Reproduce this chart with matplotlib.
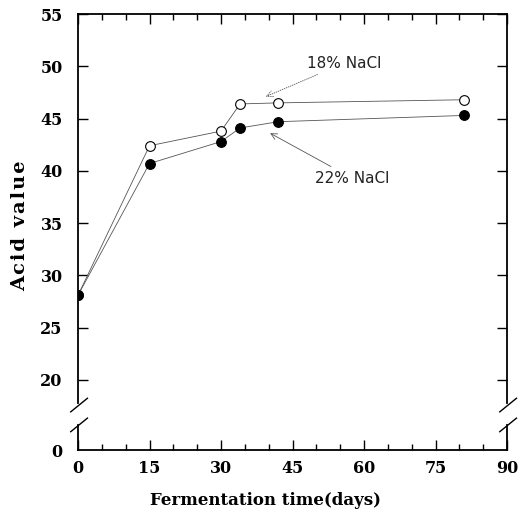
import matplotlib
matplotlib.use('Agg')
import matplotlib.pyplot as plt
from matplotlib.ticker import MultipleLocator

# values
days = [0, 15, 30, 34, 42, 81]
nacl_18 = [28.1, 42.4, 43.8, 46.4, 46.5, 46.8]
nacl_22 = [28.1, 40.7, 42.8, 44.1, 44.7, 45.3]

y_ticks = [20, 25, 30, 35, 40, 45, 50, 55]
x_ticks = [0, 15, 30, 45, 60, 75, 90]

# fake "0" position below the axis break
Y_ZERO = 13.3
BREAK_HI = 17.8
BREAK_LO = 15.7

fig = plt.figure(figsize=(5.31, 5.15), dpi=100)
ax = fig.add_axes([0.1469, 0.1262, 0.808, 0.8466])

ax.plot(days, nacl_18, color='#555555', lw=0.6, marker='o', ms=7,
        mfc='white', mec='black', mew=0.8, zorder=3)
ax.plot(days, nacl_22, color='#555555', lw=0.6, marker='o', ms=7,
        mfc='black', mec='black', mew=0.8, zorder=3)

ax.set_xlim(0, 90)
ax.set_ylim(Y_ZERO, 55)
ax.set_xticks(x_ticks)
ax.xaxis.set_minor_locator(MultipleLocator(5))
ax.set_yticks([Y_ZERO] + y_ticks)
ax.set_yticklabels(['0'] + [str(v) for v in y_ticks])

ax.tick_params(which='both', direction='in', top=True, right=True,
               width=1.0, labelsize=11.5)
ax.tick_params(axis='x', pad=7)
ax.tick_params(axis='y', pad=11)
ax.tick_params(which='major', length=7)
ax.tick_params(which='minor', length=4)
for lbl in ax.get_xticklabels() + ax.get_yticklabels():
    lbl.set_family('DejaVu Serif')
    lbl.set_fontweight('bold')
# no tick mark at the fake zero
ax.yaxis.get_major_ticks()[0].tick1line.set_visible(False)
ax.yaxis.get_major_ticks()[0].tick2line.set_visible(False)

for s in ('top', 'bottom'):
    ax.spines[s].set_linewidth(1.3)
ax.spines['left'].set_visible(False)
ax.spines['right'].set_visible(False)

# broken side spines with slash marks
tr = ax.get_yaxis_transform()
for xa in (0, 1):
    ax.plot([xa, xa], [BREAK_HI, 55], color='black', lw=1.3, transform=tr, clip_on=False)
    ax.plot([xa, xa], [Y_ZERO, BREAK_LO], color='black', lw=1.3, transform=tr, clip_on=False)
    for yb in (BREAK_HI - 0.2, BREAK_LO):
        ax.plot([xa - 0.017, xa + 0.022], [yb - 0.65, yb + 0.65], color='black',
                lw=1.0, transform=tr, clip_on=False)

ax.set_xlabel('Fermentation time(days)', family='DejaVu Serif', fontweight='bold',
              fontsize=12)
ax.xaxis.set_label_coords(0.438, -0.097)
ax.set_ylabel('\u200a'.join('Acid value'), family='DejaVu Serif', fontweight='bold',
              fontsize=14)
ax.yaxis.set_label_coords(-0.113, 0.515)

ax.annotate('18% NaCl', xy=(39.4, 47.1), xytext=(48.0, 50.3), fontsize=11,
            ha='left', va='center', color='#222222',
            arrowprops=dict(arrowstyle='->', color='#555555', lw=0.6,
                            linestyle=':', shrinkA=2, shrinkB=0))
ax.annotate('22% NaCl', xy=(40.3, 43.6), xytext=(49.7, 39.3), fontsize=11,
            ha='left', va='center', color='#222222',
            arrowprops=dict(arrowstyle='->', color='#555555', lw=0.6,
                            shrinkA=2, shrinkB=0))

fig.savefig('out.png', dpi=100)
